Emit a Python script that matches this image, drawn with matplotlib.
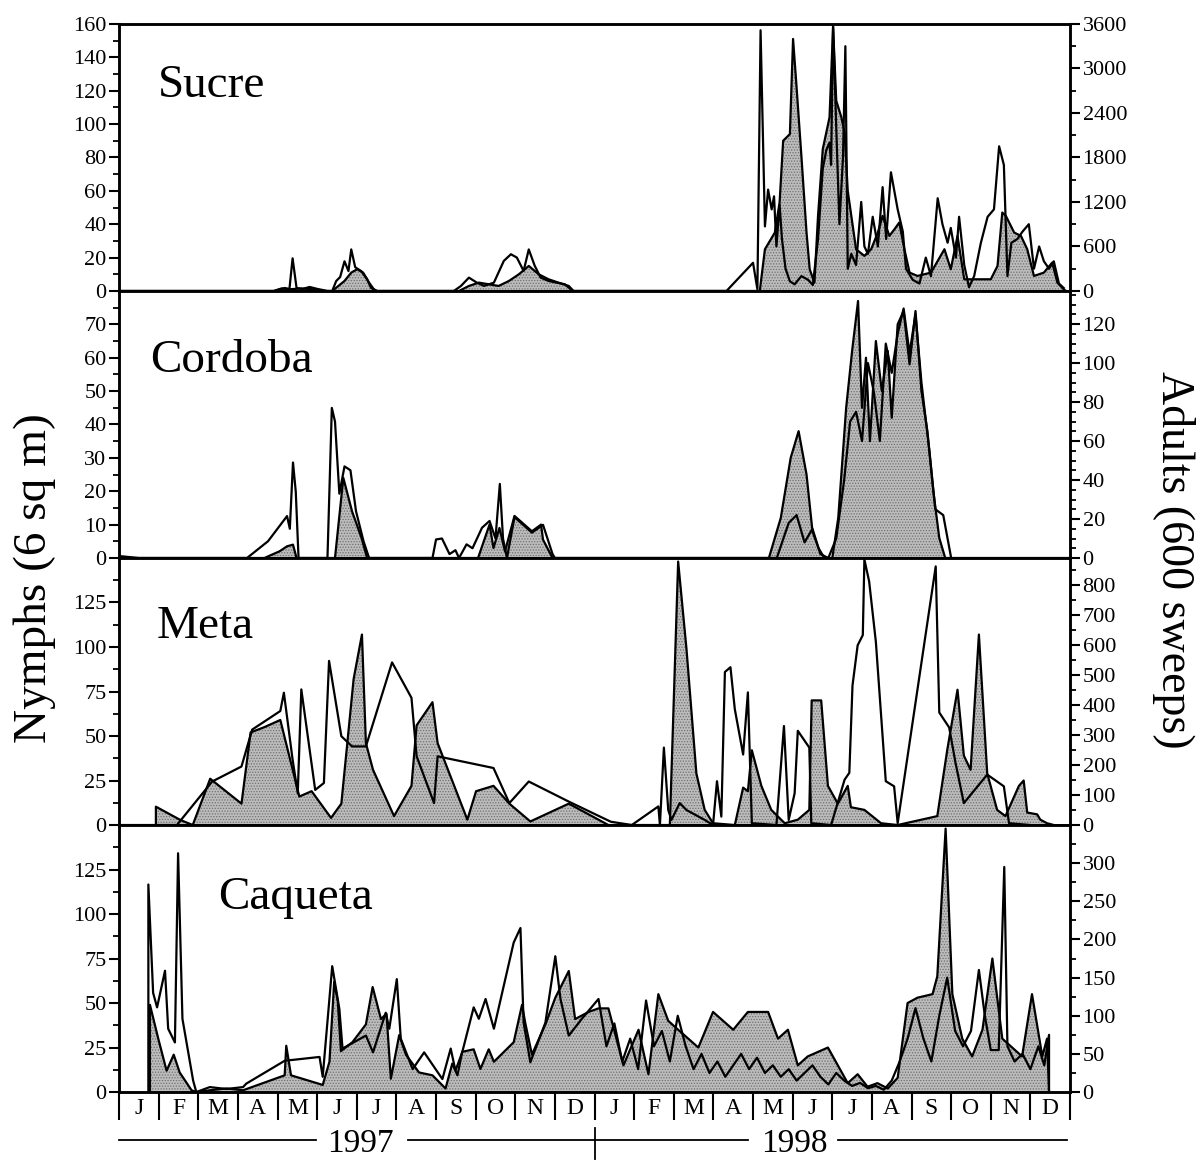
import matplotlib
matplotlib.use("Agg")
import matplotlib.pyplot as plt
from matplotlib.ticker import MultipleLocator
import numpy as np

plt.rcParams['font.family'] = ['Liberation Serif', 'DejaVu Serif']
plt.rcParams['hatch.linewidth'] = 0.6
plt.rcParams['hatch.color'] = '#707070'

# time axis in months from 1 Jan 1997
month_letters = ['J', 'F', 'M', 'A', 'M', 'J', 'J', 'A', 'S', 'O', 'N', 'D'] * 2
years = ['1997', '1998']

# ---- Sucre ----
sucre_nymph_t = [0, 3.9, 4.1, 4.3, 4.6, 4.9, 5.2, 5.38, 5.69, 5.86, 6.01, 6.16, 6.31, 6.46,
                 8.58, 8.83, 9.08, 9.33, 9.58, 9.84, 10.09, 10.34, 10.59, 10.84, 11.09, 11.35, 11.47,
                 16.17, 16.30, 16.55, 16.67, 16.76, 16.93, 17.01, 17.09, 17.22, 17.35, 17.43, 17.55,
                 17.64, 17.76, 17.93, 18.02, 18.10, 18.23, 18.31, 18.39, 18.48, 18.60, 18.81, 18.98,
                 19.15, 19.27, 19.44, 19.57, 19.69, 19.82, 19.95, 20.15, 20.49, 20.83, 20.99, 21.16,
                 21.33, 21.66, 22.00, 22.17, 22.29, 22.38, 22.59, 22.76, 22.92, 23.09, 23.34, 23.55,
                 23.68, 23.84, 23.9]
sucre_nymph = [0, 0, 1.5, 1, 1.5, 1, 0, 0, 6, 11, 13, 11, 5, 0,
               0, 3, 5, 4, 3, 6, 10, 15, 10, 7, 5, 3, 0,
               0, 25, 35, 53, 90, 94, 151, 125, 81, 35, 13, 5,
               45, 85, 104, 158, 114, 104, 95, 60, 45, 25, 21, 25,
               35, 45, 33, 37, 41, 25, 11, 9, 11, 25, 13, 33,
               7, 7, 7, 15, 47, 45, 35, 33, 25, 9, 11, 17,
               5, 1, 0]
sucre_adult_t = [0, 3.92, 4.18, 4.30, 4.38, 4.48, 4.63, 4.81, 5.01, 5.26, 5.38, 5.48, 5.58, 5.69,
                 5.79, 5.86, 5.96, 6.11, 6.26, 6.36, 6.52, 8.45, 8.63, 8.83, 9.03, 9.21, 9.46, 9.71,
                 9.89, 10.04, 10.21, 10.34, 10.49, 10.64, 10.84, 11.04, 11.25, 11.45, 15.33, 16.00,
                 16.11, 16.19, 16.30, 16.38, 16.47, 16.53, 16.59, 16.67, 16.73, 16.82, 16.93, 17.05,
                 17.22, 17.39, 17.51, 17.64, 17.76, 17.85, 17.93, 17.97, 18.02, 18.10, 18.18, 18.27,
                 18.33, 18.39, 18.48, 18.60, 18.73, 18.81, 18.90, 19.02, 19.15, 19.27, 19.36, 19.48,
                 19.65, 19.78, 19.86, 20.03, 20.20, 20.36, 20.49, 20.66, 20.78, 20.91, 20.99, 21.12,
                 21.20, 21.33, 21.45, 21.58, 21.75, 21.92, 22.08, 22.21, 22.33, 22.42, 22.52, 22.67,
                 22.80, 22.96, 23.09, 23.22, 23.34, 23.47, 23.59, 23.72, 23.84]
sucre_adult = [0, 0, 40, 27, 440, 40, 27, 54, 27, 0, 0, 134, 188, 400,
               268, 560, 320, 268, 160, 40, 0, 0, 68, 180, 112, 68, 112, 405,
               495, 450, 270, 560, 340, 180, 135, 112, 90, 0, 0, 380,
               22, 3515, 870, 1366, 1100, 1276, 600, 1164, 700, 300, 130, 90,
               200, 150, 80, 700, 1650, 1900, 2000, 1700, 3600, 2200, 900, 1800,
               3300, 300, 500, 350, 1200, 600, 500, 1000, 600, 1400, 700, 1600,
               1100, 800, 300, 150, 100, 450, 200, 1250, 900, 650, 850, 450,
               1000, 350, 50, 200, 650, 1000, 1100, 1950, 1700, 200, 650, 700,
               800, 900, 300, 600, 400, 300, 400, 100, 40]

# ---- Cordoba ----
cordoba_nymph_t = [0, 3.67, 4.05, 4.24, 4.39, 4.48, 5.45, 5.66, 5.88, 6.12, 6.26,
                   9.06, 9.35, 9.45, 9.60, 9.74, 9.98, 10.42, 10.65, 10.70, 10.94,
                   16.4, 16.7, 16.95, 17.15, 17.35, 17.5, 17.65, 17.8, 18.0, 18.15, 18.35,
                   18.5, 18.65, 18.75, 18.85, 18.95, 19.1, 19.25, 19.4, 19.5, 19.65, 19.8,
                   19.95, 20.1, 20.25, 20.4, 20.55, 20.7, 20.85, 24]
cordoba_nymph = [0, 0, 2, 3.5, 4, 0, 0, 24, 14, 6, 0,
                 0, 10, 3, 9, 2, 12.6, 8, 10, 5.5, 0,
                 0, 12, 30, 38, 25, 8, 3, 0, 0, 12, 45,
                 62, 77, 45, 60, 35, 65, 50, 62, 42, 70, 74,
                 58, 74, 50, 38, 20, 6, 0, 0]
cordoba_adult_t = [0, 0.5, 3.23, 3.76, 4.24, 4.31, 4.39, 4.46, 4.53, 5.26, 5.37, 5.45, 5.56,
                   5.69, 5.84, 5.98, 6.17, 6.31, 7.91, 8.0, 8.15, 8.34, 8.49, 8.58, 8.77, 8.92,
                   9.16, 9.35, 9.50, 9.61, 9.69, 9.79, 9.98, 10.42, 10.70, 10.94, 11.0,
                   16.6, 16.9, 17.1, 17.3, 17.5, 17.7, 17.9, 18.1, 18.3, 18.45, 18.6, 18.75,
                   18.9, 19.05, 19.2, 19.35, 19.5, 19.65, 19.8, 19.95, 20.1, 20.25, 20.45,
                   20.6, 20.8, 21.0]
cordoba_adult = [1, 0, 0, 8.6, 21.5, 15, 49, 34, 0, 0, 77, 70, 33,
                 47, 45, 24, 8.6, 0, 0, 9.5, 10, 2, 4, 0, 7, 5,
                 15.5, 19, 10, 38, 10, 0, 21, 13, 17, 2, 0,
                 0, 18, 22, 8, 15, 2, 0, 10, 40, 70, 75, 60,
                 100, 85, 60, 110, 95, 115, 128, 105, 125, 90, 55,
                 25, 22, 0]

# ---- Meta ----
meta_nymph_t = [0.93, 0.93, 1.55, 1.86, 2.30, 3.09, 3.32, 3.67, 4.07, 4.55, 4.86, 5.35, 5.61,
                5.92, 6.13, 6.23, 6.41, 6.94, 7.38, 7.51, 7.91, 8.04, 8.79, 9.01, 9.45, 9.85,
                10.38, 11.35, 12.1, 12.35, 13.90, 14.11, 14.32, 14.57, 14.78, 14.99, 15.54,
                15.75, 15.87, 15.97, 16.21, 16.46, 16.80, 17.13, 17.42, 17.48, 17.72, 17.89,
                18.14, 18.39, 18.47, 18.81, 19.23, 19.65, 20.65, 20.90, 21.16, 21.32, 21.49,
                21.70, 21.91, 22.16, 22.37, 22.71, 22.83, 22.92, 23.17, 23.25, 23.42, 23.59]
meta_nymph = [0, 10.3, 2.8, 0, 26, 12, 52, 55, 59, 16, 19, 4, 12,
              82, 107, 46, 31, 5, 22, 56, 69, 46, 3, 19, 22, 12,
              2, 12, 3, 0, 0, 148, 99, 29, 8.5, 1, 0,
              21, 19, 42, 22, 8.5, 1, 3, 8.5, 70, 70, 22,
              12, 22, 10, 8.5, 1, 0, 5, 42, 76, 39, 31,
              107, 29, 8.5, 5, 22, 25, 7, 6, 3, 1, 0]
meta_adult_t = [0, 1.46, 2.35, 3.09, 3.36, 4.07, 4.16, 4.38, 4.51, 4.60, 4.95, 5.17, 5.30,
                5.61, 5.88, 6.23, 6.89, 7.38, 7.51, 7.95, 8.04, 9.45, 9.85, 10.34, 11.35,
                12.41, 12.94, 13.61, 13.65, 13.75, 13.86, 13.94, 14.15, 14.32, 14.78, 14.99,
                15.09, 15.20, 15.29, 15.43, 15.54, 15.75, 15.87, 15.97, 16.59, 16.78, 16.90,
                17.05, 17.13, 17.42, 17.47, 17.97, 18.31, 18.43, 18.51, 18.64, 18.77, 18.81,
                18.93, 19.10, 19.35, 19.56, 19.65, 20.61, 20.70, 20.95, 21.11, 21.32, 21.91,
                22.33, 22.46, 23.0]
meta_adult = [0, 0, 145, 195, 318, 380, 441, 218, 106, 452, 117, 140, 547,
              296, 262, 262, 542, 424, 229, 73, 229, 190, 73, 145, 78,
              11, 0, 62, 0, 258, 50, 17, 73, 50, 17, 0,
              146, 28, 510, 526, 386, 235, 442, 6, 0, 330, 17,
              106, 314, 258, 6, 0, 151, 174, 465, 599, 633, 885,
              812, 610, 146, 129, 6, 862, 375, 325, 207, 73, 168,
              129, 6, 0]

# ---- Caqueta ----
caqueta_nymph_t = [0.78, 0.78, 0.99, 1.20, 1.38, 1.53, 1.83, 1.95, 2.29, 2.71, 3.13, 4.18, 4.22,
                   4.34, 5.14, 5.31, 5.43, 5.52, 5.60, 5.89, 6.23, 6.40, 6.61, 6.75, 6.86, 7.07,
                   7.24, 7.57, 7.91, 8.24, 8.41, 8.54, 8.66, 8.95, 9.12, 9.33, 9.46, 9.96, 10.17,
                   10.25, 10.42, 10.76, 11.01, 11.35, 11.51, 11.85, 12.10, 12.35, 12.73, 13.11,
                   13.36, 13.61, 13.86, 14.11, 14.62, 14.99, 15.50, 15.87, 16.38, 16.63, 16.88,
                   17.13, 17.38, 17.89, 18.14, 18.39, 18.64, 18.89, 19.14, 19.40, 19.65, 19.90,
                   20.15, 20.53, 20.65, 20.86, 21.03, 21.28, 21.53, 21.79, 22.04, 22.29, 22.54,
                   22.79, 23.04, 23.30, 23.42, 23.47]
caqueta_nymph = [0, 49, 30, 12, 21, 11, 1, 0, 1, 2, 1, 9.4, 26,
                 9.4, 4, 17, 62, 51, 23, 28, 38, 59, 41, 44, 7.5, 32,
                 21, 11, 9.4, 2, 16, 9.4, 22.6, 24, 13, 24, 17, 28, 49,
                 39, 21, 38, 53, 68, 41, 45, 47, 47, 15, 35,
                 10, 55, 40, 35, 25, 45, 35, 45, 45, 30, 35,
                 15, 20, 25, 15, 5, 10, 3, 5, 2, 8, 50,
                 53, 55, 65, 148, 55, 30, 20, 35, 75, 30, 25,
                 20, 55, 20, 30, 0]
caqueta_adult_t = [0.74, 0.74, 0.86, 0.96, 1.16, 1.24, 1.41, 1.49, 1.60, 1.87, 1.95, 2.29, 2.71,
                   3.13, 3.21, 4.18, 5.06, 5.14, 5.38, 5.56, 5.64, 6.23, 6.41, 6.73, 6.82, 7.01,
                   7.11, 7.41, 7.70, 8.16, 8.37, 8.49, 8.66, 8.95, 9.08, 9.25, 9.46, 9.96, 10.13,
                   10.21, 10.38, 10.76, 11.01, 11.14, 11.35, 11.68, 12.10, 12.3, 12.5, 12.7,
                   12.9, 13.1, 13.3, 13.5, 13.7, 13.9, 14.1, 14.3, 14.5, 14.7, 14.9, 15.1, 15.3,
                   15.5, 15.7, 15.9, 16.1, 16.3, 16.5, 16.7, 16.9, 17.1, 17.3, 17.5, 17.7, 17.9,
                   18.1, 18.3, 18.5, 18.7, 18.9, 19.1, 19.3, 19.5, 19.7, 19.9, 20.1, 20.3, 20.5,
                   20.7, 20.9, 21.1, 21.3, 21.5, 21.7, 21.85, 22.0, 22.2, 22.34, 22.42, 22.6,
                   22.8, 23.0, 23.2, 23.35, 23.47, 23.47]
caqueta_adult = [0, 272, 130, 111, 159, 83, 65, 313, 96, 15, 0, 6.5, 4,
                 6.5, 11, 41, 46, 20, 165, 109, 57, 74, 52, 104, 83, 148,
                 70, 30, 52, 17, 57, 28, 52, 111, 96, 122, 83, 196, 215,
                 91, 39, 91, 178, 122, 74, 96, 122, 60, 90, 40,
                 70, 30, 120, 60, 80, 40, 100, 60, 30, 50, 25, 40, 20,
                 35, 50, 30, 45, 25, 35, 20, 30, 15, 25, 35, 20, 10,
                 25, 15, 8, 12, 5, 8, 3, 15, 40, 70, 110, 70, 40,
                 100, 150, 80, 60, 80, 160, 100, 55, 55, 295, 60, 40,
                 50, 30, 60, 35, 75, 0]

names = ['Sucre', 'Cordoba', 'Meta', 'Caqueta']
nymph_t = [sucre_nymph_t, cordoba_nymph_t, meta_nymph_t, caqueta_nymph_t]
nymph = [sucre_nymph, cordoba_nymph, meta_nymph, caqueta_nymph]
adult_t = [sucre_adult_t, cordoba_adult_t, meta_adult_t, caqueta_adult_t]
adult = [sucre_adult, cordoba_adult, meta_adult, caqueta_adult]

# axis set-up per panel
left_lim = [160, 80, 150, 150]
left_ticks = [np.arange(0, 161, 20), np.arange(0, 71, 10), np.arange(0, 126, 25), np.arange(0, 126, 25)]
left_minor = [10, 5, 12.5, 12.5]
right_lim = [3600, 137, 890, 350]
right_ticks = [np.arange(0, 3601, 600), np.arange(0, 121, 20), np.arange(0, 801, 100), np.arange(0, 301, 50)]
right_minor = [300, 5, 50, 25]
name_pos = [(0.041, 0.77), (0.033, 0.737), (0.040, 0.742), (0.104, 0.727)]

fig = plt.figure(figsize=(12, 11.62), dpi=100)
bottoms = [0.7496, 0.5198, 0.2900, 0.0602]
h = 0.2298
axes = []
for i in range(4):
    ax = fig.add_axes([0.0992, bottoms[i], 0.7925, h])
    ax.fill_between(nymph_t[i], 0, nymph[i], facecolor='#bcbcbc', hatch='......',
                    edgecolor='#707070', linewidth=0)
    ax.plot(nymph_t[i], nymph[i], color='black', lw=1.6)
    ax2 = ax.twinx()
    ax2.plot(adult_t[i], adult[i], color='black', lw=1.6)

    ax.set_xlim(0, 24)
    ax.set_ylim(0, left_lim[i])
    ax2.set_ylim(0, right_lim[i])
    ax.set_yticks(left_ticks[i])
    ax.yaxis.set_minor_locator(MultipleLocator(left_minor[i]))
    ax2.set_yticks(right_ticks[i])
    ax2.yaxis.set_minor_locator(MultipleLocator(right_minor[i]))
    for a in (ax, ax2):
        a.tick_params(axis='y', which='major', direction='out', length=7, width=1.5,
                      labelsize=16, pad=2)
        a.tick_params(axis='y', which='minor', direction='out', length=4, width=1.3)
        for s in a.spines.values():
            s.set_linewidth(1.8)
    ax.text(name_pos[i][0], name_pos[i][1], names[i], transform=ax.transAxes,
            fontsize=34, ha='left', va='center')
    if i < 3:
        ax.tick_params(axis='x', which='both', bottom=False, labelbottom=False)
    axes.append(ax)

# month boxes on the bottom axis
axb = axes[3]
axb.set_xticks(np.arange(0, 25))
axb.set_xticklabels([])
axb.set_xticks(np.arange(24) + 0.5, minor=True)
axb.set_xticklabels(month_letters, minor=True, fontsize=17)
axb.tick_params(axis='x', which='major', direction='out', length=20, width=1.5)
axb.tick_params(axis='x', which='minor', length=0, pad=4)

# year bar under the months
tr = axb.get_xaxis_transform()
yb = -0.18
axb.plot([0, 4.96], [yb, yb], color='black', lw=1.3, transform=tr, clip_on=False)
axb.plot([7.3, 12], [yb, yb], color='black', lw=1.3, transform=tr, clip_on=False)
axb.plot([12, 15.87], [yb, yb], color='black', lw=1.3, transform=tr, clip_on=False)
axb.plot([18.14, 23.92], [yb, yb], color='black', lw=1.3, transform=tr, clip_on=False)
axb.plot([12, 12], [-0.135, -0.25], color='black', lw=1.3, transform=tr, clip_on=False)
axb.text(6.1, -0.195, years[0], transform=tr, fontsize=24, ha='center', va='center')
axb.text(17.05, -0.195, years[1], transform=tr, fontsize=24, ha='center', va='center')

fig.text(0.029, 0.5026, 'Nymphs (6 sq m)', rotation=90, fontsize=34, ha='center', va='center')
fig.text(0.9775, 0.518, 'Adults (600 sweeps)', rotation=-90, fontsize=33, ha='center', va='center')

fig.savefig('out.png', dpi=100)
